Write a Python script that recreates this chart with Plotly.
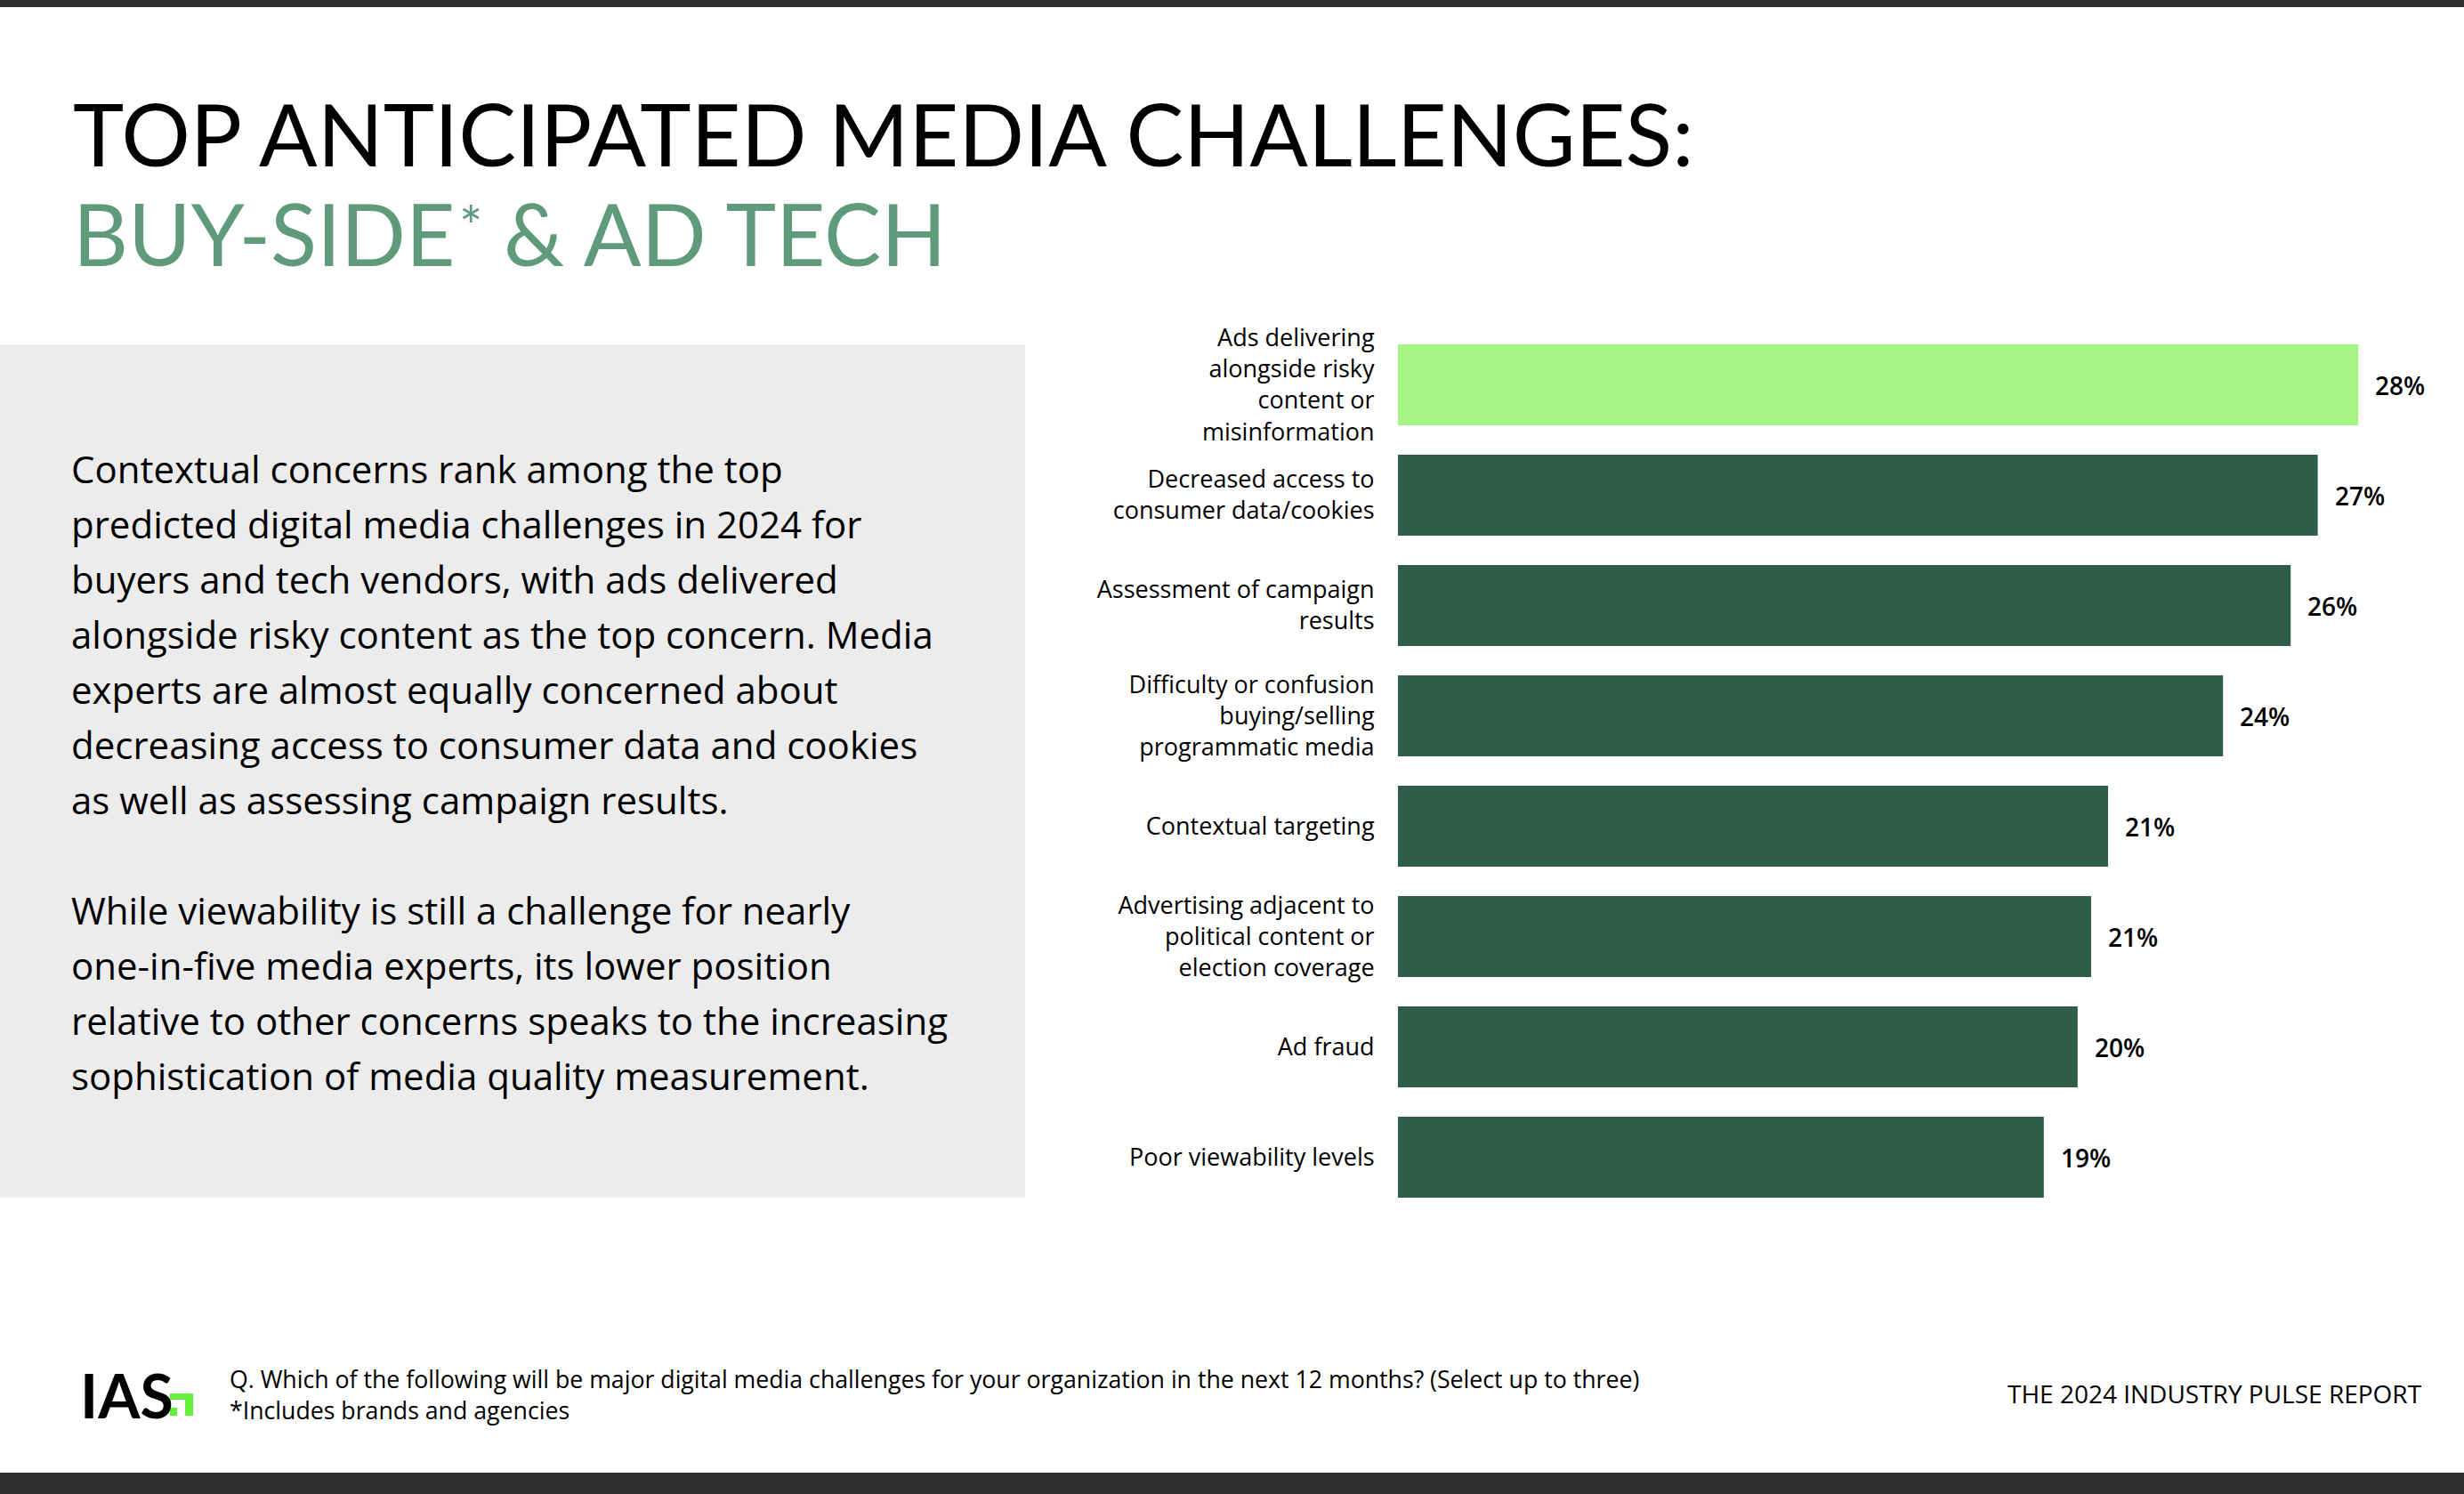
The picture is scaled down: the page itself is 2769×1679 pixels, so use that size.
import plotly.graph_objects as go

W, H = 2769, 1679

categories = [
    "Ads delivering<br>alongside risky<br>content or<br>misinformation",
    "Decreased access to<br>consumer data/cookies",
    "Assessment of campaign<br>results",
    "Difficulty or confusion<br>buying/selling<br>programmatic media",
    "Contextual targeting",
    "Advertising adjacent to<br>political content or<br>election coverage",
    "Ad fraud",
    "Poor viewability levels",
]
values = [28.4, 27.2, 26.4, 24.4, 21.0, 20.5, 20.1, 19.1]
value_labels = ["28%", "27%", "26%", "24%", "21%", "21%", "20%", "19%"]
bar_colors = ["#a6f584"] + ["#2e5e4a"] * 7

paragraph_lines = [
    "Contextual concerns rank among the top",
    "predicted digital media challenges in 2024 for",
    "buyers and tech vendors, with ads delivered",
    "alongside risky content as the top concern. Media",
    "experts are almost equally concerned about",
    "decreasing access to consumer data and cookies",
    "as well as assessing campaign results.",
    "",
    "While viewability is still a challenge for nearly",
    "one-in-five media experts, its lower position",
    "relative to other concerns speaks to the increasing",
    "sophistication of media quality measurement.",
]

TITLE_FONT = "Lato"
BODY_FONT = "Open Sans"


def px_x(p):
    return p / W


def px_y(p):
    return 1 - p / H


fig = go.Figure()
fig.add_trace(go.Bar(
    x=values, y=categories, orientation="h",
    marker=dict(color=bar_colors, line=dict(width=0)),
    hoverinfo="skip",
))

# value labels next to the bars
for cat, v, lab in zip(categories, values, value_labels):
    fig.add_annotation(
        x=v, y=cat, xref="x", yref="y", text=lab, showarrow=False,
        xanchor="left", yanchor="middle", xshift=17,
        font=dict(family=BODY_FONT, size=28, color="#000000", weight=600),
    )

px_per_unit = 38.0
x_left = 1571
fig.update_xaxes(
    domain=[px_x(x_left), 1.0],
    range=[0, (W - x_left) / px_per_unit],
    visible=False, fixedrange=True, automargin=False,
)
band_top = 370.5
band_bot = 1362.5
fig.update_yaxes(
    domain=[px_y(band_bot), px_y(band_top)],
    range=[len(categories) - 0.5, -0.5],
    autorange=False, automargin=False,
    showgrid=False, zeroline=False, showline=False,
    ticks="outside", ticklen=20, tickcolor="rgba(0,0,0,0)",
    tickfont=dict(family=BODY_FONT, size=27, color="#000000", weight=500),
    fixedrange=True,
)

shapes = []
# top and bottom dark bands
shapes.append(dict(type="rect", xref="paper", yref="paper", x0=0, x1=1,
                   y0=px_y(8), y1=1, fillcolor="#303030", line=dict(width=0), layer="below"))
shapes.append(dict(type="rect", xref="paper", yref="paper", x0=0, x1=1,
                   y0=0, y1=px_y(1655), fillcolor="#303030", line=dict(width=0), layer="below"))
# gray text panel
shapes.append(dict(type="rect", xref="paper", yref="paper", x0=0, x1=px_x(1152),
                   y0=px_y(1346), y1=px_y(387), fillcolor="#ececec", line=dict(width=0), layer="below"))
# IAS logo green mark
logo_green = "#66ee3c"
for (x0, x1, y0, y1) in [(191, 217, 1566, 1573), (208, 217, 1566, 1591), (191, 199, 1582, 1591)]:
    shapes.append(dict(type="rect", xref="paper", yref="paper", x0=px_x(x0), x1=px_x(x1),
                       y0=px_y(y1), y1=px_y(y0), fillcolor=logo_green, line=dict(width=0)))

annotations = []
# title
annotations.append(dict(x=px_x(80), y=px_y(150), xref="paper", yref="paper", xanchor="left",
                        yanchor="middle", showarrow=False, text="TOP ANTICIPATED MEDIA CHALLENGES:",
                        font=dict(family=TITLE_FONT, size=97, color="#000000")))
green = "#5f9a7a"
annotations.append(dict(x=px_x(80), y=px_y(261), xref="paper", yref="paper", xanchor="left",
                        yanchor="middle", showarrow=False, text="BUY-SIDE",
                        font=dict(family=TITLE_FONT, size=96, color=green)))
annotations.append(dict(x=px_x(529), y=px_y(253), xref="paper", yref="paper", xanchor="center",
                        yanchor="middle", showarrow=False, text="*",
                        font=dict(family=TITLE_FONT, size=62, color=green)))
annotations.append(dict(x=px_x(564), y=px_y(261), xref="paper", yref="paper", xanchor="left",
                        yanchor="middle", showarrow=False, text="& AD TECH",
                        font=dict(family=TITLE_FONT, size=96, color=green)))
# paragraph lines
y0 = 526
for i, line in enumerate(paragraph_lines):
    if not line:
        continue
    annotations.append(dict(x=px_x(78), y=px_y(y0 + 62 * i), xref="paper", yref="paper",
                            xanchor="left", yanchor="middle", showarrow=False, text=line,
                            font=dict(family=BODY_FONT, size=42, color="#000000")))
# footer
annotations.append(dict(x=px_x(88), y=px_y(1567), xref="paper", yref="paper", xanchor="left",
                        yanchor="middle", showarrow=False, text="<b>IAS</b>",
                        font=dict(family=TITLE_FONT, size=68, color="#000000")))
annotations.append(dict(x=px_x(256), y=px_y(1567), xref="paper", yref="paper", xanchor="left",
                        yanchor="middle", showarrow=False, align="left",
                        text="Q. Which of the following will be major digital media challenges for your organization in the next 12 months? (Select up to three)<br>*Includes brands and agencies",
                        font=dict(family=BODY_FONT, size=26.7, color="#000000")))
annotations.append(dict(x=px_x(2724), y=px_y(1566), xref="paper", yref="paper", xanchor="right",
                        yanchor="middle", showarrow=False, text="THE 2024 INDUSTRY PULSE REPORT",
                        font=dict(family=BODY_FONT, size=28, color="#000000")))

fig.update_layout(
    width=W, height=H,
    margin=dict(l=0, r=0, t=0, b=0, autoexpand=False),
    paper_bgcolor="#ffffff", plot_bgcolor="rgba(0,0,0,0)",
    bargap=1 - 91 / 124,
    showlegend=False,
    shapes=shapes,
)
for a in annotations:
    fig.add_annotation(**a)

fig.write_html(
    "out.html",
    config={"displayModeBar": False},
    post_script="document.body.style.margin='0';document.body.style.overflow='hidden';",
)
